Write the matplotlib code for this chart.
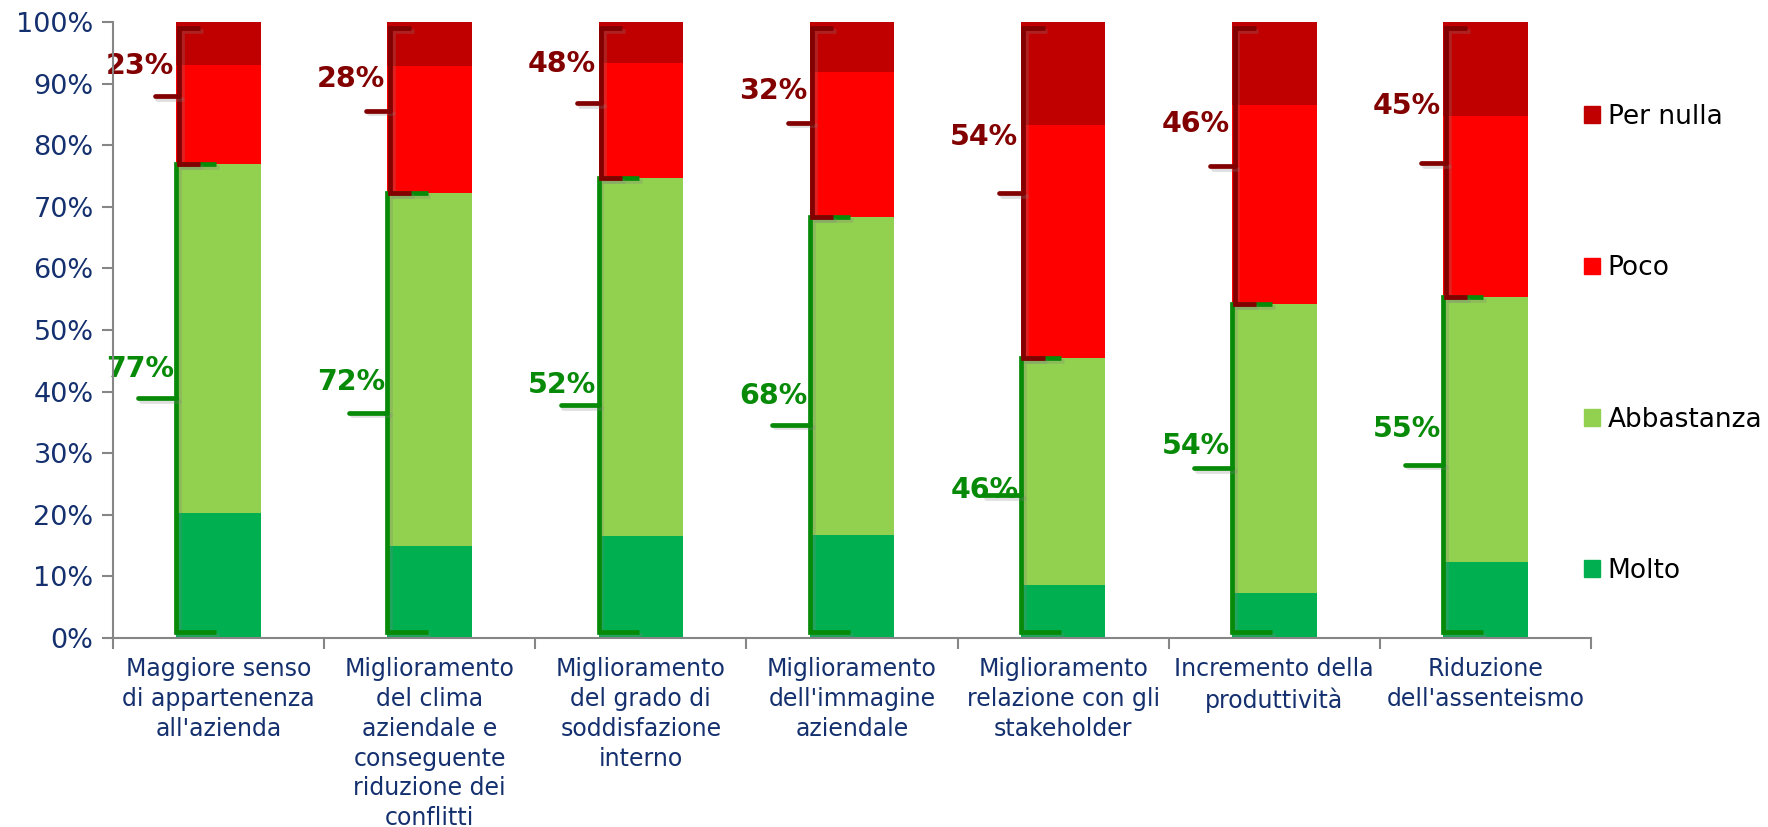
import matplotlib.pyplot as plt
import matplotlib.patheffects as pe
from matplotlib.patches import Patch

# Dati (percentuali)
categorie = [
    "Maggiore senso\ndi appartenenza\nall'azienda",
    "Miglioramento\ndel clima\naziendale e\nconseguente\nriduzione dei\nconflitti",
    "Miglioramento\ndel grado di\nsoddisfazione\ninterno",
    "Miglioramento\ndell'immagine\naziendale",
    "Miglioramento\nrelazione con gli\nstakeholder",
    "Incremento della\nproduttività",
    "Riduzione\ndell'assenteismo",
]
molto = [20.3, 15.0, 16.5, 16.7, 8.6, 7.3, 12.3]
abbastanza = [56.6, 57.2, 58.2, 51.6, 36.8, 46.9, 43.0]
poco = [16.1, 20.7, 18.7, 23.6, 37.9, 32.4, 29.5]
per_nulla = [7.0, 7.1, 6.6, 8.1, 16.7, 13.4, 15.2]

etichette_positive = ['77%', '72%', '52%', '68%', '46%', '54%', '55%']
etichette_negative = ['23%', '28%', '48%', '32%', '54%', '46%', '45%']

# scostamento verticale delle etichette rispetto al trattino centrale (in punti %)
off_pos = [4.7, 5.0, 3.3, 4.6, 0.9, 3.6, 5.7]
off_neg = [4.9, 5.1, 6.4, 5.2, 9.1, 6.8, 9.2]

col_molto = '#00B050'
col_abb = '#92D050'
col_poco = '#FF0000'
col_nulla = '#C00000'
verde = '#078A07'
bordeaux = '#820000'
blu = '#14306E'

plt.rcParams['font.family'] = ['DejaVu Sans']

fig = plt.figure(figsize=(17.68, 8.27), dpi=100)
ax = fig.add_axes([113 / 1768, 1 - 638 / 827, (1591 - 113) / 1768, (638 - 22) / 827])

x = list(range(len(categorie)))
w = 0.40
base2 = [a + b for a, b in zip(molto, abbastanza)]
base3 = [a + b for a, b in zip(base2, poco)]

ax.bar(x, molto, w, color=col_molto, label='Molto', zorder=2)
ax.bar(x, abbastanza, w, bottom=molto, color=col_abb, label='Abbastanza', zorder=2)
ax.bar(x, poco, w, bottom=base2, color=col_poco, label='Poco', zorder=2)
ax.bar(x, per_nulla, w, bottom=base3, color=col_nulla, label='Per nulla', zorder=2)

ombra = [pe.SimpleLineShadow(offset=(2, -2), alpha=0.25, shadow_color='gray'), pe.Normal()]
lw = 3.4
for i in x:
    xl = i - w / 2
    top = base2[i]
    # parentesi verde (Molto + Abbastanza)
    ax.plot([xl + 0.19, xl, xl, xl + 0.19], [1, 1, top, top], color=verde, lw=lw,
            solid_joinstyle='miter', solid_capstyle='butt', zorder=3, path_effects=ombra)
    mid = (1 + top) / 2
    ax.plot([xl, xl - 0.18], [mid, mid], color=verde, lw=lw, solid_capstyle='round',
            zorder=3, path_effects=ombra)
    ax.text(xl - 0.012, mid + off_pos[i], etichette_positive[i], color=verde,
            fontsize=20.5, fontweight='bold', ha='right', va='center', zorder=1)
    # parentesi bordeaux (Poco + Per nulla)
    xr = xl + 0.012
    ax.plot([xr + 0.1, xr, xr, xr + 0.1], [top, top, 99, 99], color=bordeaux, lw=lw,
            solid_joinstyle='miter', solid_capstyle='butt', zorder=4, path_effects=ombra)
    mid2 = (top + 99) / 2
    ax.plot([xr, xr - 0.115], [mid2, mid2], color=bordeaux, lw=lw, solid_capstyle='round',
            zorder=4, path_effects=ombra)
    ax.text(xl - 0.012, mid2 + off_neg[i], etichette_negative[i], color=bordeaux,
            fontsize=20.5, fontweight='bold', ha='right', va='center', zorder=1)

ax.set_xlim(-0.5, len(categorie) - 0.5)
ax.set_ylim(0, 100)
ax.set_yticks(range(0, 101, 10))
ax.set_yticklabels([f'{v}%' for v in range(0, 101, 10)], color=blu, fontsize=19.5)
ax.set_xticks(x)
ax.set_xticklabels(categorie, color=blu, fontsize=17, linespacing=1.3, va='top')
ax.tick_params(axis='x', length=0, pad=14)
ax.set_xticks([i - 0.5 for i in range(len(categorie) + 1)], minor=True)
ax.tick_params(axis='x', which='minor', length=8, color='#868686', width=1.5)
ax.tick_params(axis='y', length=8, color='#868686', width=1.5, pad=6)

for s in ['top', 'right']:
    ax.spines[s].set_visible(False)
for s in ['left', 'bottom']:
    ax.spines[s].set_color('#868686')
    ax.spines[s].set_linewidth(1.5)

handles = [Patch(color=col_nulla), Patch(color=col_poco), Patch(color=col_abb), Patch(color=col_molto)]
ax.legend(handles, ['Per nulla', 'Poco', 'Abbastanza', 'Molto'], loc='center left',
          bbox_to_anchor=(1584 / 1768, 1 - 344 / 827), bbox_transform=fig.transFigure,
          frameon=False, fontsize=19, labelspacing=4.75, handlelength=0.6, handleheight=0.6,
          handletextpad=0.3, borderpad=0, borderaxespad=0)

fig.savefig('out.png', dpi=100)
